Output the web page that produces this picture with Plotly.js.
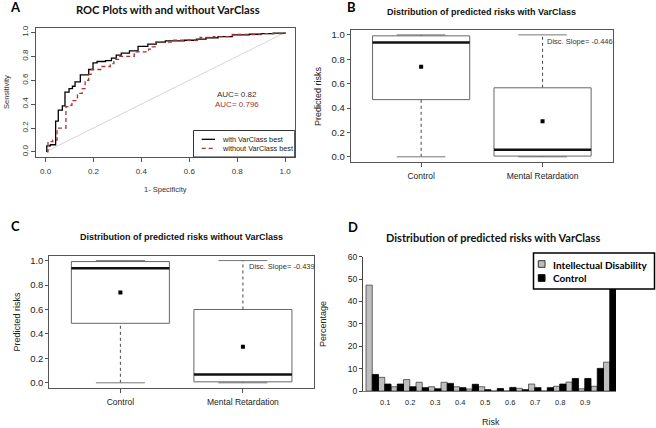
<!DOCTYPE html>
<html>
<head>
<meta charset="utf-8">
<script src="https://cdn.plot.ly/plotly-3.0.1.min.js"></script>
<style>
  html, body { margin: 0; padding: 0; background: #fff; }
  #fig { width: 656px; height: 428px; }
</style>
</head>
<body>
<div id="fig"></div>
<script>
// ROC curves (panel A): 1 - specificity vs sensitivity
const rocWithX = [0.005, 0.005, 0.02, 0.042, 0.053, 0.07, 0.081, 0.098, 0.112, 0.123, 0.145, 0.18, 0.198, 0.215, 0.25, 0.275, 0.295, 0.316, 0.35, 0.386, 0.427, 0.462, 0.5, 0.58, 0.63, 0.67, 0.72, 0.78, 0.85, 0.9, 0.95, 1.0];
const rocWithY = [0, 0.05, 0.06, 0.257, 0.35, 0.385, 0.5, 0.53, 0.55, 0.586, 0.645, 0.69, 0.745, 0.757, 0.765, 0.785, 0.81, 0.827, 0.846, 0.883, 0.902, 0.919, 0.93, 0.935, 0.945, 0.955, 0.965, 0.98, 0.985, 0.99, 0.995, 1.0];
const rocWithoutX = [0.005, 0.01, 0.03, 0.048, 0.085, 0.1, 0.11, 0.133, 0.153, 0.165, 0.18, 0.19, 0.23, 0.27, 0.285, 0.31, 0.37, 0.43, 0.445, 0.46, 0.53, 0.645, 0.7, 0.78, 0.9, 1.0];
const rocWithoutY = [0, 0.086, 0.1, 0.2, 0.38, 0.39, 0.43, 0.49, 0.53, 0.6, 0.65, 0.69, 0.715, 0.74, 0.775, 0.8, 0.838, 0.86, 0.88, 0.92, 0.935, 0.958, 0.965, 0.983, 0.99, 1.0];
const chanceX = [0, 1];
const chanceY = [0, 1];
const aucWith = 0.82;
const aucWithout = 0.796;
const rocNames = ["with VarClass best", "without VarClass best"];

// Boxplots (panels B and C)
const groups = ["Control", "Mental Retardation"];
const withMin = [0, 0];
const withQ1 = [0.469, 0.006];
const withMed = [0.937, 0.058];
const withQ3 = [0.992, 0.566];
const withMax = [1, 1];
const withMean = [0.738, 0.291];
const withSlope = -0.446;

const withoutMin = [0, 0];
const withoutQ1 = [0.487, 0.008];
const withoutMed = [0.938, 0.069];
const withoutQ3 = [0.992, 0.6];
const withoutMax = [1, 1];
const withoutMean = [0.738, 0.295];
const withoutSlope = -0.439;

// Histogram of predicted risks (panel D), percent per 0.05 bin
const riskBins = [0.025, 0.075, 0.125, 0.175, 0.225, 0.275, 0.325, 0.375, 0.425, 0.475, 0.525, 0.575, 0.625, 0.675, 0.725, 0.775, 0.825, 0.875, 0.925, 0.975];
const idPct = [47.3, 6.1, 1.9, 5.1, 3.9, 1.9, 3.9, 1.9, 0.9, 1.9, 0, 0, 1.2, 3.1, 0, 2.1, 4.0, 1.0, 2.1, 12.9];
const ctrlPct = [7.4, 3.1, 3.1, 1.9, 1.5, 1.0, 3.4, 1.5, 3.0, 0.6, 1.1, 1.6, 0.6, 1.5, 1.5, 3.1, 5.6, 5.6, 10.1, 48];
const histNames = ["Intellectual Disability", "Control"];
const riskTicks = [0.1, 0.2, 0.3, 0.4, 0.5, 0.6, 0.7, 0.8, 0.9];
const pctTicks = [0, 10, 20, 30, 40, 50, 60];

const W = 656, H = 428;
const px = (x) => x / W;
const py = (y) => 1 - y / H;

const ARIAL = "Liberation Sans, Arial, sans-serif";
const CALIBRI = "Lato, Carlito, sans-serif";
const FRAME = "#555";
const RED = "#a8322d";

// boxplot drawn from the stats arrays, R style
function boxTraces(xa, ya, mins, q1s, meds, q3s, maxs, means) {
  const half = 0.4, cap = 0.2;
  const rectX = [], rectY = [], medX = [], medY = [];
  const whX = [], whY = [], capX = [], capY = [];
  groups.forEach((g, i) => {
    rectX.push(i - half, i + half, i + half, i - half, i - half, null);
    rectY.push(q1s[i], q1s[i], q3s[i], q3s[i], q1s[i], null);
    medX.push(i - half, i + half, null);
    medY.push(meds[i], meds[i], null);
    whX.push(i, i, null, i, i, null);
    whY.push(mins[i], q1s[i], null, q3s[i], maxs[i], null);
    capX.push(i - cap, i + cap, null, i - cap, i + cap, null);
    capY.push(mins[i], mins[i], null, maxs[i], maxs[i], null);
  });
  const base = { xaxis: xa, yaxis: ya, type: "scatter", mode: "lines", showlegend: false, hoverinfo: "skip" };
  return [
    Object.assign({}, base, { x: whX, y: whY, line: { color: "#444", width: 1, dash: "dot" } }),
    Object.assign({}, base, { x: capX, y: capY, line: { color: "#777", width: 1 } }),
    Object.assign({}, base, { x: rectX, y: rectY, line: { color: "#666", width: 1 } }),
    Object.assign({}, base, { x: medX, y: medY, line: { color: "#111", width: 2.5 } }),
    Object.assign({}, base, {
      x: groups.map((g, i) => i), y: means, mode: "markers",
      marker: { symbol: "square", size: 4, color: "#000" },
    }),
  ];
}

const data = [
  {
    x: chanceX, y: chanceY, xaxis: "x", yaxis: "y",
    type: "scatter", mode: "lines", showlegend: false, hoverinfo: "skip",
    line: { color: "#d6d6d6", width: 1 },
  },
  {
    x: rocWithX, y: rocWithY, xaxis: "x", yaxis: "y", name: rocNames[0], showlegend: false,
    type: "scatter", mode: "lines", line: { color: "#000", width: 1.3, shape: "hv" },
  },
  {
    x: rocWithoutX, y: rocWithoutY, xaxis: "x", yaxis: "y", name: rocNames[1], showlegend: false,
    type: "scatter", mode: "lines", line: { color: RED, width: 1.3, dash: "4px,3px", shape: "hv" },
  },
  ...boxTraces("x2", "y2", withMin, withQ1, withMed, withQ3, withMax, withMean),
  ...boxTraces("x3", "y3", withoutMin, withoutQ1, withoutMed, withoutQ3, withoutMax, withoutMean),
  {
    x: riskBins, y: idPct, xaxis: "x4", yaxis: "y4", type: "bar", name: histNames[0], showlegend: false,
    marker: { color: "#bebebe", line: { color: "#444", width: 0.8 } },
  },
  {
    x: riskBins, y: ctrlPct, xaxis: "x4", yaxis: "y4", type: "bar", name: histNames[1], showlegend: false,
    marker: { color: "#000", line: { color: "#000", width: 0.8 } },
  },
];

const frameAxis = {
  showline: true, linecolor: FRAME, linewidth: 1, mirror: true,
  ticks: "outside", tickcolor: FRAME, ticklen: 4, tickwidth: 1,
  showgrid: false, zeroline: false, fixedrange: true,
};

const unitTicks = [0, 0.2, 0.4, 0.6, 0.8, 1.0];

// legends boxes, R style (small rows)
const shapes = [
  { type: "rect", x0: px(193.5), x1: px(294.7), y0: py(157), y1: py(130.5), line: { color: "#333", width: 1 }, fillcolor: "#fff" },
  { type: "line", x0: px(201.7), x1: px(215), y0: py(139.3), y1: py(139.3), line: { color: "#000", width: 1.3 } },
  { type: "line", x0: px(201.7), x1: px(215), y0: py(148.3), y1: py(148.3), line: { color: RED, width: 1.3, dash: "4px,3px" } },
  { type: "rect", x0: px(533.5), x1: px(654.5), y0: py(289), y1: py(253), line: { color: "#000", width: 1.5 }, fillcolor: "#fff" },
  { type: "rect", x0: px(538.3), x1: px(545), y0: py(267.3), y1: py(260.7), line: { color: "#333", width: 1 }, fillcolor: "#bebebe" },
  { type: "rect", x0: px(538.3), x1: px(545), y0: py(281.3), y1: py(274.7), line: { color: "#000", width: 1 }, fillcolor: "#000" },
].map((s) => Object.assign({ xref: "paper", yref: "paper", layer: "above" }, s));

const layout = {
  width: W, height: H,
  margin: { t: 0, l: 0, r: 0, b: 0 },
  paper_bgcolor: "#fff",
  plot_bgcolor: "#fff",
  font: { family: ARIAL, color: "#222" },
  showlegend: false,
  barmode: "group", bargap: 0, bargroupgap: 0,
  // A
  xaxis: Object.assign({}, frameAxis, {
    domain: [px(36), px(294.7)], anchor: "y", range: [-0.04, 1.04],
    tickvals: unitTicks, tickformat: ".1f", tickfont: { size: 8, color: "#333" }, ticklabelstandoff: 3,
  }),
  yaxis: Object.assign({}, frameAxis, {
    domain: [py(156.7), py(27.7)], anchor: "x", range: [-0.04, 1.04],
    tickvals: unitTicks, tickformat: ".1f", tickangle: -90, tickfont: { size: 8, color: "#333" },
  }),
  // B
  xaxis2: Object.assign({}, frameAxis, {
    domain: [px(350.7), px(613)], anchor: "y2", range: [-0.58, 1.58],
    tickvals: [0, 1], ticktext: groups, tickfont: { size: 8.5, color: "#222" }, ticklabelstandoff: 2,
  }),
  yaxis2: Object.assign({}, frameAxis, {
    domain: [py(161.7), py(30)], anchor: "x2", range: [-0.04, 1.04],
    tickvals: unitTicks, tickformat: ".1f", tickfont: { size: 9.5, color: "#222" }, ticklen: 3,
  }),
  // C
  xaxis3: Object.assign({}, frameAxis, {
    domain: [px(49.3), px(314)], anchor: "y3", range: [-0.58, 1.58],
    tickvals: [0, 1], ticktext: groups, tickfont: { size: 8.5, color: "#222" }, ticklabelstandoff: 2,
  }),
  yaxis3: Object.assign({}, frameAxis, {
    domain: [py(387.7), py(255.7)], anchor: "x3", range: [-0.04, 1.04],
    tickvals: unitTicks, tickformat: ".1f", tickfont: { size: 9.5, color: "#222" }, ticklen: 3,
  }),
  // D
  xaxis4: {
    domain: [px(363), px(616)], anchor: "y4", range: [-0.012, 1.0],
    showline: true, linecolor: "#777", linewidth: 1, ticks: "", showgrid: false, zeroline: false,
    tickvals: riskTicks.map((t) => t - 0.023), ticktext: riskTicks.map((t) => t.toFixed(1)),
    tickfont: { size: 7.5, color: "#222" }, ticklabelstandoff: 4, fixedrange: true,
  },
  yaxis4: {
    domain: [py(391), py(256.7)], anchor: "x4", range: [0, 60],
    showline: true, linecolor: "#444", linewidth: 1, ticks: "outside", ticklen: 3, tickcolor: "#444",
    tickvals: pctTicks, tickfont: { size: 8.5, color: "#222" }, showgrid: false, zeroline: false, fixedrange: true,
  },
  shapes: shapes,
  annotations: [
    // panel letters
    { text: "<b>A</b>", x: px(15), y: py(7), font: { family: CALIBRI, size: 13, color: "#000" } },
    { text: "<b>B</b>", x: px(351), y: py(7), font: { family: CALIBRI, size: 13, color: "#000" } },
    { text: "<b>C</b>", x: px(15), y: py(226), font: { family: CALIBRI, size: 13, color: "#000" } },
    { text: "<b>D</b>", x: px(353), y: py(227), font: { family: CALIBRI, size: 13, color: "#000" } },
    // titles
    { text: "<b>ROC Plots with and without VarClass</b>", x: px(168), y: py(10), font: { family: CALIBRI, size: 11.2, color: "#111" } },
    { text: "<b>Distribution of predicted risks with VarClass</b>", x: px(481), y: py(11.7), font: { family: ARIAL, size: 9, color: "#111" } },
    { text: "<b>Distribution of predicted risks without VarClass</b>", x: px(181.7), y: py(237.3), font: { family: ARIAL, size: 9, color: "#111" } },
    { text: "<b>Distribution of predicted risks with VarClass</b>", x: px(493), y: py(237.3), font: { family: CALIBRI, size: 11, color: "#111" } },
    // axis titles
    { text: "Sensitivity", x: px(6), y: py(92), textangle: -90, font: { size: 7.5, color: "#333" } },
    { text: "1- Specificity", x: px(165), y: py(189), font: { size: 7.5, color: "#333" } },
    { text: "Predicted risks", x: px(318), y: py(96), textangle: -90, font: { size: 9, color: "#222" } },
    { text: "Predicted risks", x: px(16.7), y: py(321.7), textangle: -90, font: { size: 9, color: "#222" } },
    { text: "Percentage", x: px(323), y: py(324), textangle: -90, font: { size: 9, color: "#222" } },
    { text: "Risk", x: px(491.3), y: py(422), font: { size: 9, color: "#222" } },
    // in-plot labels
    { text: "AUC= " + aucWith, xref: "x", yref: "y", x: 0.8, y: 0.483, font: { size: 8, color: "#333" } },
    { text: "AUC= " + aucWithout, xref: "x", yref: "y", x: 0.8, y: 0.4, font: { size: 8, color: RED } },
    { text: "Disc. Slope= " + withSlope, xref: "x2", yref: "y2", x: 1.02, y: 0.948, xanchor: "left", font: { size: 7.5, color: "#333" } },
    { text: "Disc. Slope= " + withoutSlope, xref: "x3", yref: "y3", x: 1.03, y: 0.951, xanchor: "left", font: { size: 7.5, color: "#333" } },
    // legend texts
    { text: rocNames[0], x: px(220), y: py(139.3), xanchor: "left", font: { size: 7.3, color: "#222" } },
    { text: rocNames[1], x: px(220), y: py(148.3), xanchor: "left", font: { size: 7.3, color: "#222" } },
    { text: "<b>" + histNames[0] + "</b>", x: px(550.7), y: py(264.5), xanchor: "left", font: { family: CALIBRI, size: 10, color: "#000" } },
    { text: "<b>" + histNames[1] + "</b>", x: px(550.7), y: py(278), xanchor: "left", font: { family: CALIBRI, size: 10, color: "#000" } },
  ].map((a) => Object.assign({ xref: "paper", yref: "paper", showarrow: false, xanchor: "center", yanchor: "middle" }, a)),
};

Plotly.newPlot("fig", data, layout, { displayModeBar: false, staticPlot: true });
</script>
</body>
</html>
